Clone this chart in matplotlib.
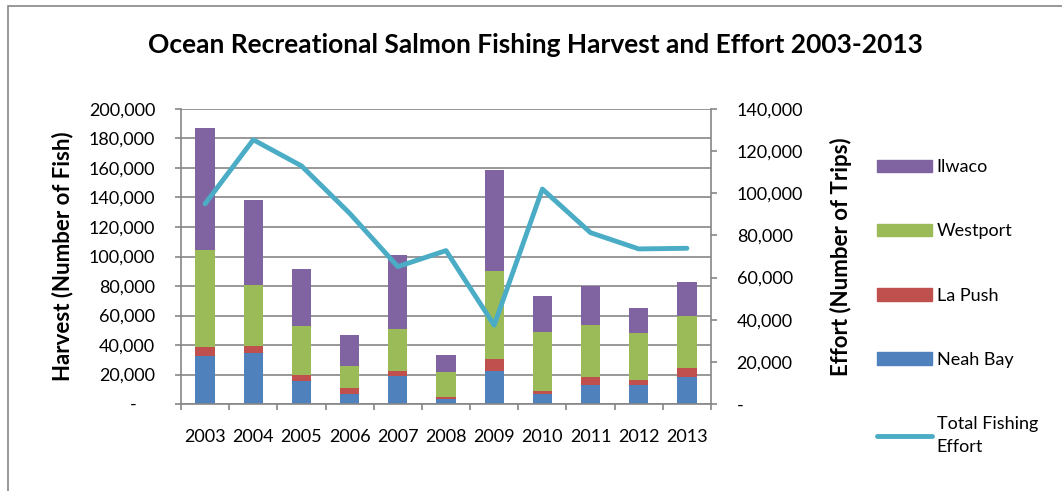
import matplotlib.pyplot as plt
from matplotlib.patches import Patch, Rectangle
from matplotlib.lines import Line2D
from matplotlib.ticker import FuncFormatter, MultipleLocator
import numpy as np

plt.rcParams['font.family'] = ['Lato', 'DejaVu Sans']

years = ['2003', '2004', '2005', '2006', '2007', '2008', '2009', '2010', '2011', '2012', '2013']
neah_bay = [32500, 34800, 15500, 6800, 19300, 3200, 22700, 6800, 13200, 13200, 18600]
la_push = [6100, 4700, 4300, 4100, 3200, 1300, 7800, 2100, 5200, 3200, 5700]
westport = [65700, 41000, 33400, 14600, 28600, 17100, 59500, 40200, 35000, 31600, 35200]
ilwaco = [82700, 57700, 38200, 21100, 49600, 11600, 68900, 23900, 26800, 17000, 23200]
effort = [95000, 125400, 113000, 90500, 65200, 72800, 37400, 102000, 81300, 73600, 73900]

c_nb = '#4F81BD'
c_lp = '#C0504D'
c_wp = '#9BBB59'
c_il = '#8064A2'
c_eff = '#4BACC6'
grid_c = '#868686'

fig = plt.figure(figsize=(10.62, 4.91), dpi=100)
ax = fig.add_axes([181 / 1062, 87 / 491, 530 / 1062, 295 / 491])

x = np.arange(len(years))
w = 0.4
b1 = np.array(neah_bay)
b2 = b1 + np.array(la_push)
b3 = b2 + np.array(westport)
ax.bar(x, neah_bay, w, color=c_nb, zorder=2)
ax.bar(x, la_push, w, bottom=b1, color=c_lp, zorder=2)
ax.bar(x, westport, w, bottom=b2, color=c_wp, zorder=2)
ax.bar(x, ilwaco, w, bottom=b3, color=c_il, zorder=2)

ax.set_xlim(-0.5, len(years) - 0.5)
ax.set_ylim(0, 200000)
ax.yaxis.set_major_locator(MultipleLocator(20000))
ax.grid(axis='y', color=grid_c, lw=1.2, zorder=0)
ax.set_axisbelow(True)


def fmt(v, pos):
    return '-    ' if v == 0 else f'{v:,.0f}'


ax.yaxis.set_major_formatter(FuncFormatter(fmt))
ax.set_xticks(x)
ax.set_xticklabels(years)
ax.set_xticks(np.arange(-0.5, len(years)), minor=True)
ax.tick_params(axis='x', which='major', length=0, labelsize=13, pad=18)
ax.tick_params(axis='x', which='minor', length=4.5, color=grid_c, width=1.2)
ax.tick_params(axis='y', length=4.5, color=grid_c, width=1.2, labelsize=13, pad=14)
for s in ['left', 'bottom']:
    ax.spines[s].set_color(grid_c)
    ax.spines[s].set_linewidth(1.2)
ax.spines['top'].set_visible(False)
ax.spines['right'].set_visible(False)
ax.set_ylabel('Harvest (Number of Fish)', fontsize=16, fontweight='bold', labelpad=11)

ax2 = ax.twinx()
ax2.plot(x, effort, color=c_eff, lw=3.5, solid_capstyle='round', zorder=3)
ax2.set_ylim(0, 140000)
ax2.yaxis.set_major_locator(MultipleLocator(20000))
ax2.yaxis.set_major_formatter(FuncFormatter(lambda v, p: '-' if v == 0 else f'{v:,.0f}'))
ax2.tick_params(axis='y', length=4.5, color=grid_c, width=1.2, labelsize=13, pad=14)
for s in ['left', 'top', 'bottom']:
    ax2.spines[s].set_visible(False)
ax2.spines['right'].set_color(grid_c)
ax2.spines['right'].set_linewidth(1.2)
ax2.set_ylabel('Effort (Number of Trips)', fontsize=16, fontweight='bold', labelpad=19)

fig.suptitle('Ocean Recreational Salmon Fishing Harvest and Effort 2003-2013',
             x=535 / 1062, y=1 - 45 / 491, fontsize=19, fontweight='bold', va='center')

handles = [Patch(color=c_il), Patch(color=c_wp), Patch(color=c_lp), Patch(color=c_nb),
           Line2D([0], [0], color=c_eff, lw=3.5, solid_capstyle='round')]
labels = ['Ilwaco', 'Westport', 'La Push', 'Neah Bay', 'Total Fishing\nEffort']
leg = fig.legend(handles, labels, loc='upper left', bbox_to_anchor=(861 / 1062, 1 - 143 / 491),
                 frameon=False, fontsize=13, handlelength=3.05, handleheight=0.7,
                 labelspacing=2.67, handletextpad=0.25)
for t in leg.get_texts():
    t.set_linespacing(1.5)

fig.add_artist(Rectangle((8 / 1062, -0.1), 1.2, 1 - 6 / 491 + 0.1, transform=fig.transFigure,
                         fill=False, edgecolor='#868686', lw=1.2))

fig.savefig('out.png', dpi=100)
